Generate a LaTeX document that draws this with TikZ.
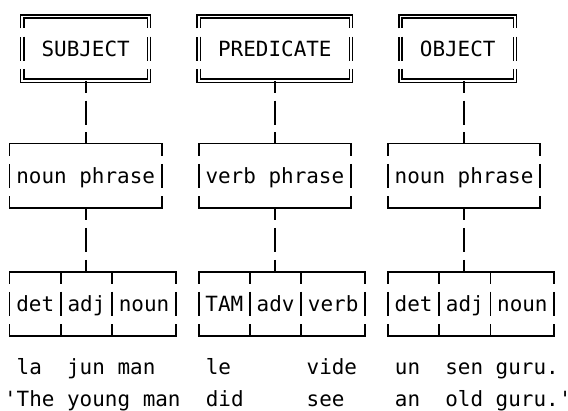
\documentclass[tikz,border=0pt]{standalone}
\usepackage{fontspec}
\setmonofont{DejaVu Sans Mono}
\usepackage{tikz}
\usetikzlibrary{positioning}
\newcommand{\colw}{6.306pt}
\newcommand{\rowh}{15.915pt}

\begin{document}
\begin{tikzpicture}[x=\colw,y=-\rowh,node distance=0pt,
    font=\ttfamily\fontsize{10.47pt}{12pt}\selectfont,
    box/.style={inner sep=0pt,minimum height=2*\rowh,text height=10pt,text depth=2.5pt},
    cells/.style={box,minimum width=#1*\colw},
    boxline/.style={line width=0.85pt},
    headline/.style={double,line width=0.75pt,double distance=0.8pt},
    link/.style={line width=0.85pt,dash pattern=on 6pt off 3.92pt on 12pt off 3.92pt on 6pt off 20pt},
    gloss/.style={inner sep=0pt,anchor=west,text height=10pt,text depth=2.5pt}]
   \useasboundingbox (-0.793,-0.525) rectangle (44.244,12.356);
   % heads
   \node[cells=10] (subj) at (6,1) {SUBJECT};
   \node[cells=12] (pred) at (21,1) {PREDICATE};
   \node[cells=9] (obj) at (35.5,1) {OBJECT};
   % phrases
   \node[cells=12] (np1) at (6,5) {noun phrase};
   \node[cells=12] (vp) at (21,5) {verb phrase};
   \node[cells=12] (np2) at (36,5) {noun phrase};
   % words
   \node[cells=4] (det1) [below right=31.83pt and 0pt of np1.south west] {det};
   \node[cells=4] (adj1) [right=of det1] {adj};
   \node[cells=5] (noun1) [right=of adj1] {noun};
   \node[cells=4] (tam) [below right=31.83pt and 0pt of vp.south west] {TAM};
   \node[cells=4] (adv) [right=of tam] {adv};
   \node[cells=5] (verb) [right=of adv] {verb};
   \node[cells=4] (det2) [below right=31.83pt and 0pt of np2.south west] {det};
   \node[cells=4] (adj2) [right=of det2] {adj};
   \node[cells=5] (noun2) [right=of adj2] {noun};
   % gloss
   \node[gloss] (gl1) at (-0.5,11) {~la~~jun~man~~~~le~~~~~~vide~~~un~~sen~guru.};
   \node[gloss] (gl2) at (-0.5,12) {'The~young~man~~did~~~~~see~~~~an~~old~guru.'};
   % frames
   \foreach \n/\s in {subj/headline,pred/headline,obj/headline,np1/boxline,vp/boxline,np2/boxline,
       det1/boxline,adj1/boxline,noun1/boxline,tam/boxline,adv/boxline,verb/boxline,
       det2/boxline,adj2/boxline,noun2/boxline}
     \draw[\s] ([yshift=-6pt]\n.north west) -- (\n.north west) -- (\n.north east) -- ([yshift=-6pt]\n.north east)
       ([yshift=6pt]\n.west) -- ([yshift=-6pt]\n.west)
       ([yshift=6pt]\n.east) -- ([yshift=-6pt]\n.east)
       ([yshift=6pt]\n.south west) -- (\n.south west) -- (\n.south east) -- ([yshift=6pt]\n.south east);
   % links
   \draw[link] (subj.south -| np1.north) -- (np1.north);
   \draw[link] (pred.south -| vp.north) -- (vp.north);
   \draw[link] (obj.south -| np2.north) -- (np2.north);
   \draw[link] (np1.south) -- (np1.south |- det1.north);
   \draw[link] (vp.south) -- (vp.south |- tam.north);
   \draw[link] (np2.south) -- (np2.south |- det2.north);
\end{tikzpicture}
\end{document}
